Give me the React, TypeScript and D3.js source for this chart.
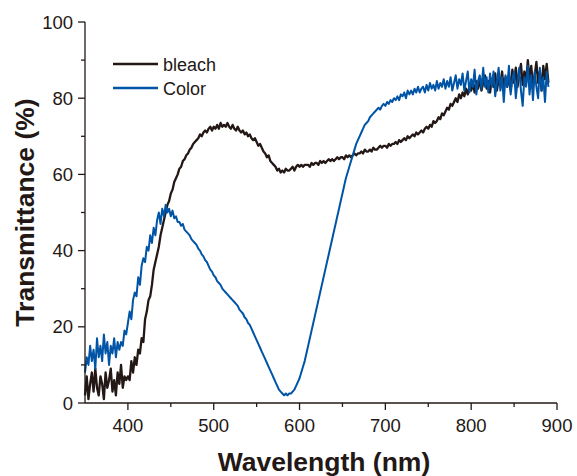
import React from 'react';
import { scaleLinear, line } from 'd3';

// wavelength grid of the spectra: 350 to 890 nm, 2 nm step
const wlStart = 350;
const wlStep = 2;

// transmittance (%) of the bleached film
const bleach = [
  2, 7, 1, 5, 8, 3, 9, 4, 2, 7, 5, 1, 8, 4, 6, 9, 3, 6, 2, 8, 5, 10, 4, 7, 6,
  7, 6, 11, 8, 12, 10, 14, 13, 17, 16, 22, 24, 27, 28, 31, 35, 37, 39, 41, 44,
  46, 48, 50, 52, 53, 55, 56, 58, 59, 60, 61.5, 62, 63.5, 64, 65,
  65.5, 66.5, 67, 68, 68.5, 69, 69.5, 70.5, 70, 71, 71.5, 71, 72, 72.5, 71.5,
  72.5, 72, 73, 72, 73.5, 72.5, 73, 72.5, 73.5, 72.5, 72, 73, 72, 71.5, 72.5,
  71.5, 71, 71.5, 70.5, 71, 70, 70.5, 69.5, 69, 69.5, 68.5, 67.5, 68, 67, 66,
  65.5, 64.5, 65, 63.5, 63, 62.5, 62, 61, 61.5, 60.5, 61, 60.5, 61.5, 61, 61,
  61.5, 62, 61, 62, 62.5, 62, 62.5, 62, 62.5, 62.5, 62.5, 62, 63, 62.5, 63,
  63, 62.5, 63.5, 63, 63.5, 63, 63.5, 64, 63.5, 64, 63.5, 64, 64.5, 64, 64.5,
  64.5, 64, 65, 64.5, 65, 64.5, 65, 65.5, 65, 65.5, 65.5, 66, 65.5, 66.5, 66,
  66, 66.5, 66, 67, 66.5, 66.5, 67, 67.5, 67, 67.5, 67.5, 67, 68, 67.5, 68,
  68, 68.5, 68, 69, 68.5, 69, 69.5, 69, 70, 69.5, 70, 70.5, 70, 71, 70.5,
  71, 71.5, 71, 72, 72.5, 72, 73, 72.5, 74, 73.5, 74, 75, 74.5, 76, 75.5,
  76.5, 77.5, 77, 78.5, 78, 79, 80, 79, 81, 80, 81.5, 80.5, 82.5, 81, 83,
  82, 84, 81.5, 84.5, 82.5, 85, 82, 84, 86, 82.5, 84.5, 81.5, 85, 83, 86.5,
  82, 85, 83.5, 87, 82.5, 85.5, 83, 86, 82, 87.5, 84, 88, 83, 86.5, 89,
  83.5, 87, 84, 90, 85, 88.5, 83, 86, 89.5, 84, 87, 82, 88.5, 85, 89, 84,
];

// transmittance (%) of the coloured film
const color = [
  8, 12, 10, 15, 11, 14, 9, 17, 12, 15, 11, 18, 13, 16, 10, 15, 13, 17, 12, 16,
  14, 16, 15, 19, 18, 21, 24, 22, 27, 29, 28, 33, 31, 36, 38, 37, 41, 40, 44, 42,
  46, 44, 48, 50, 47, 51, 49, 52, 50, 51, 49, 50.5, 48.5, 49, 47.5,
  47.5, 46.5, 47, 45.5, 45, 44.5, 44, 43, 42.5, 42, 41.5, 40.5, 40, 39, 38.5,
  37.5, 37, 36, 35, 34.5, 33.5, 33, 32, 31.5, 31, 30, 29.5, 29, 28.5, 28,
  27.5, 27, 26.5, 26, 25.5, 24.5, 24, 23.5, 22.5, 22, 21, 20.5, 19.5, 18.5, 17.5,
  16.5, 15.5, 14.5, 13.5, 12.5, 11.5, 10.5, 9.5, 8.5, 7.5, 6.5, 5.5, 4.5, 3.5, 3,
  2.5, 2, 2.5, 2, 2.5, 2.5, 3, 3.5, 4.5, 5.5, 6.5, 8, 9.5, 11, 13,
  15, 17, 19, 21, 23, 25, 27, 29, 31, 33, 35, 37, 39, 41, 43,
  45, 47, 49, 51, 53, 55, 57, 59, 60.5, 62, 63.5, 65, 66.5, 68, 69,
  70, 71, 72, 73, 73.5, 74, 75, 75.5, 76, 76.5, 77, 77.5, 77, 78, 78.5,
  78, 79, 78.5, 79.5, 79, 80, 79.5, 80.5, 79.5, 81, 80.5, 81.5, 80, 82, 81,
  82, 81, 82.5, 81.5, 83, 81.5, 82.5, 83, 81.5, 83.5, 82, 84, 82.5, 83.5, 82,
  84.5, 82.5, 84, 83, 85, 82.5, 84.5, 83, 85.5, 82, 84, 86, 82.5, 85, 83.5,
  86.5, 82, 84.5, 87, 81.5, 85, 83, 87.5, 81, 84.5, 86, 82.5, 88, 83, 85.5,
  81.5, 86.5, 83, 87, 80.5, 84, 88, 82, 85.5, 79, 86, 83, 88.5, 81, 85,
  87, 80, 84.5, 88, 82, 78, 85.5, 83, 88.5, 81, 86, 79.5, 87, 83, 80,
  88, 82, 85.5, 79, 87, 83,
];

const xTicks = [400, 500, 600, 700, 800, 900];
const xMinor = [450, 550, 650, 750, 850];
const yTicks = [0, 20, 40, 60, 80, 100];
const yMinor = [10, 30, 50, 70, 90];

const series = [
  { name: 'bleach', values: bleach, stroke: '#231815', width: 2.3 },
  { name: 'Color', values: color, stroke: '#0054a6', width: 2 },
];

const width = 577;
const height = 476;
const ink = '#231815';
const font = 'Arial, "Liberation Sans", Helvetica, sans-serif';

const App = () => {
  const x = scaleLinear().domain([350, 900]).range([85, 557]);
  const y = scaleLinear().domain([0, 100]).range([403, 22]);

  const makeLine = (vals: number[]) =>
    line<number>()
      .x((_, i) => x(wlStart + i * wlStep))
      .y((d) => y(d))(vals) || '';

  const [x0, x1] = x.range();
  const [y0, y1] = y.range();

  return (
    <svg
      width={width}
      height={height}
      style={{ position: 'absolute', left: 0, top: 0, background: '#fff' }}
      fontFamily={font}
    >
      {/* spectra */}
      {series.map((s) => (
        <path
          key={s.name}
          d={makeLine(s.values)}
          fill="none"
          stroke={s.stroke}
          strokeWidth={s.width}
          strokeLinejoin="round"
        />
      ))}

      {/* axes */}
      <line x1={x0} x2={x1} y1={y0} y2={y0} stroke={ink} strokeWidth={1.3} />
      <line x1={x0} x2={x0} y1={y0} y2={y1} stroke={ink} strokeWidth={1.3} />

      {xTicks.map((t) => (
        <g key={t}>
          <line x1={x(t)} x2={x(t)} y1={y0} y2={y0 + 7} stroke={ink} strokeWidth={1.3} />
          <text x={x(t)} y={y0 + 29} textAnchor="middle" fontSize={18.5} fill={ink}>
            {t}
          </text>
        </g>
      ))}
      {xMinor.map((t) => (
        <line key={t} x1={x(t)} x2={x(t)} y1={y0} y2={y0 + 4} stroke={ink} strokeWidth={1.3} />
      ))}

      {yTicks.map((t) => (
        <g key={t}>
          <line x1={x0 - 7} x2={x0} y1={y(t)} y2={y(t)} stroke={ink} strokeWidth={1.3} />
          <text x={x0 - 12} y={y(t) + 6.5} textAnchor="end" fontSize={18.5} fill={ink}>
            {t}
          </text>
        </g>
      ))}
      {yMinor.map((t) => (
        <line key={t} x1={x0 - 4} x2={x0} y1={y(t)} y2={y(t)} stroke={ink} strokeWidth={1.3} />
      ))}

      {/* axis titles */}
      <text
        x={(x0 + x1) / 2 + 3}
        y={471}
        textAnchor="middle"
        fontSize={26.5}
        fontWeight="bold"
        fill={ink}
      >
        Wavelength (nm)
      </text>
      <text
        transform={`translate(34, ${(y0 + y1) / 2}) rotate(-90)`}
        textAnchor="middle"
        fontSize={26.5}
        fontWeight="bold"
        fill={ink}
      >
        Transmittance (%)
      </text>

      {/* legend */}
      {series.map((s, i) => (
        <g key={s.name} transform={`translate(113, ${64 + i * 24})`}>
          <line x1={0} x2={45} y1={0} y2={0} stroke={s.stroke} strokeWidth={2.4} />
          <text x={50} y={6.5} fontSize={18} fill={ink}>
            {s.name}
          </text>
        </g>
      ))}
    </svg>
  );
};

export default App;
